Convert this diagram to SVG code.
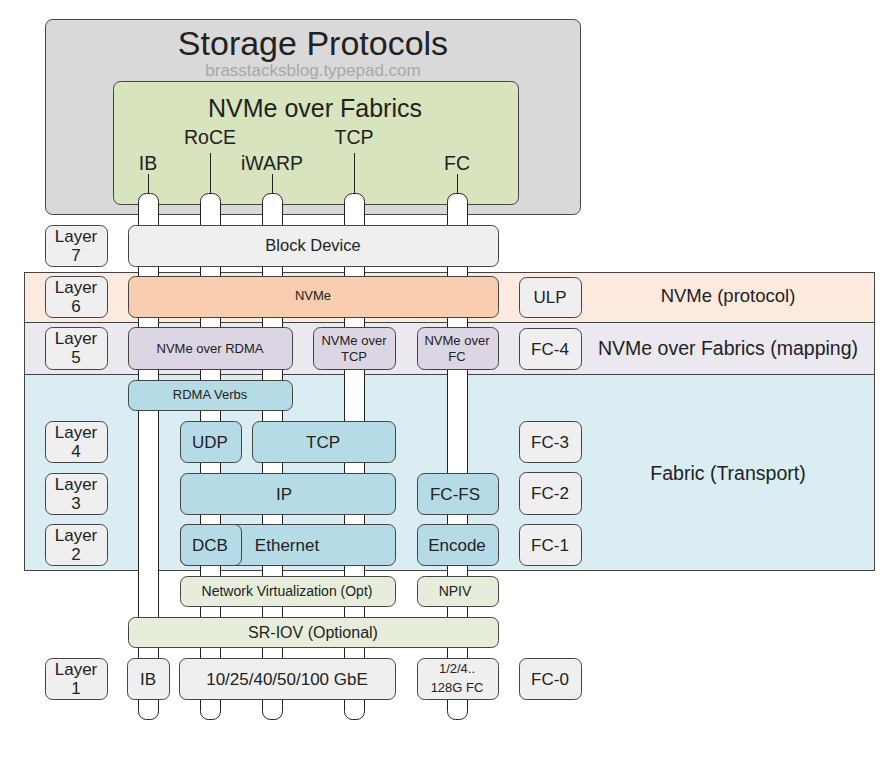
<svg xmlns="http://www.w3.org/2000/svg" width="887" height="774" viewBox="0 0 887 774">
<style>
text{font-family:"Liberation Sans",Arial,sans-serif;fill:#222;text-anchor:middle}
.b{stroke:#444;stroke-width:1}
.layer{fill:#efefef}
.gray{fill:#efefef}
.nv{fill:#f8cdb0}
.pu{fill:#dcd6e4}
.bl{fill:#b5dce6}
.gr{fill:#e6eedb}
.t17{font-size:17px}
.t13{font-size:13px}
.t14{font-size:14px}
.tube{fill:#fff;stroke:#222;stroke-width:1}
.ln{stroke:#222;stroke-width:1}
</style>
<rect width="887" height="774" fill="#fff"/>
<g id="bands">
<rect class="b" x="24.5" y="272.5" width="850" height="50" fill="#fdeadf"/>
<rect class="b" x="24.5" y="322.5" width="850" height="52" fill="#ebe8ef"/>
<rect class="b" x="24.5" y="374.5" width="850" height="196" fill="#daedf3"/>
<text x="728" y="302" style="font-size:18.5px">NVMe (protocol)</text>
<text x="728" y="355" style="font-size:19.5px">NVMe over Fabrics (mapping)</text>
<text x="728" y="480" style="font-size:19.5px">Fabric (Transport)</text>
</g>
<g id="storage-protocols">
<rect class="b" x="45.5" y="19.5" width="535" height="195" rx="7" fill="#d9d9d9"/>
<text x="313" y="55" style="font-size:34px">Storage Protocols</text>
<text x="313" y="76" style="font-size:17px;fill:#a8a8a8">brasstacksblog.typepad.com</text>
</g>
<g id="nvme-over-fabrics">
<rect class="b" x="113.5" y="81.5" width="405" height="123" rx="7" fill="#d7e4bd"/>
<text x="315" y="117" style="font-size:25px">NVMe over Fabrics</text>
<text x="210" y="144" style="font-size:19.5px">RoCE</text>
<text x="354" y="144" style="font-size:19.5px">TCP</text>
<text x="148" y="170" style="font-size:19.5px">IB</text>
<text x="272" y="170" style="font-size:19.5px">iWARP</text>
<text x="457" y="170" style="font-size:19.5px">FC</text>
</g>
<g id="connectors">
<line class="ln" x1="148.5" y1="174" x2="148.5" y2="193"/>
<line class="ln" x1="210.5" y1="153" x2="210.5" y2="193"/>
<line class="ln" x1="272.5" y1="174" x2="272.5" y2="193"/>
<line class="ln" x1="354.5" y1="153" x2="354.5" y2="193"/>
<line class="ln" x1="457.5" y1="174" x2="457.5" y2="193"/>
<rect class="tube" x="138.5" y="193.5" width="20" height="526" rx="8"/>
<rect class="tube" x="200.5" y="193.5" width="20" height="526" rx="8"/>
<rect class="tube" x="262.5" y="193.5" width="20" height="526" rx="8"/>
<rect class="tube" x="344.5" y="193.5" width="20" height="526" rx="8"/>
<rect class="tube" x="447.5" y="193.5" width="20" height="526" rx="8"/>
</g>
<g id="layer7"><rect class="b layer" x="45.5" y="225.5" width="62" height="41" rx="7"/><text class="t17" x="76" y="242">Layer</text><text class="t17" x="76" y="261">7</text></g>
<g id="layer6"><rect class="b layer" x="45.5" y="276.5" width="62" height="41" rx="7"/><text class="t17" x="76" y="293">Layer</text><text class="t17" x="76" y="312">6</text></g>
<g id="layer5"><rect class="b layer" x="45.5" y="327.5" width="62" height="42" rx="7"/><text class="t17" x="76" y="344">Layer</text><text class="t17" x="76" y="363">5</text></g>
<g id="layer4"><rect class="b layer" x="45.5" y="421.5" width="62" height="41" rx="7"/><text class="t17" x="76" y="438">Layer</text><text class="t17" x="76" y="457">4</text></g>
<g id="layer3"><rect class="b layer" x="45.5" y="473.5" width="62" height="41" rx="7"/><text class="t17" x="76" y="490">Layer</text><text class="t17" x="76" y="509">3</text></g>
<g id="layer2"><rect class="b layer" x="45.5" y="524.5" width="62" height="41" rx="7"/><text class="t17" x="76" y="541">Layer</text><text class="t17" x="76" y="560">2</text></g>
<g id="layer1"><rect class="b layer" x="45.5" y="658.5" width="62" height="41" rx="7"/><text class="t17" x="76" y="675">Layer</text><text class="t17" x="76" y="694">1</text></g>
<g id="block-device"><rect class="b gray" x="128.5" y="225.5" width="370" height="41" rx="7"/><text x="313" y="251" style="font-size:16.5px">Block Device</text></g>
<g id="nvme"><rect class="b nv" x="128.5" y="276.5" width="370" height="41" rx="7"/><text class="t13" x="313" y="300">NVMe</text></g>
<g id="nvme-over-rdma"><rect class="b pu" x="128.5" y="327.5" width="164" height="42" rx="7"/><text class="t13" x="210" y="353">NVMe over RDMA</text></g>
<g id="nvme-over-tcp"><rect class="b pu" x="313.5" y="327.5" width="82" height="42" rx="7"/><text class="t13" x="354" y="345">NVMe over</text><text class="t13" x="354" y="361">TCP</text></g>
<g id="nvme-over-fc"><rect class="b pu" x="417.5" y="327.5" width="81" height="42" rx="7"/><text class="t13" x="457" y="345">NVMe over</text><text class="t13" x="457" y="361">FC</text></g>
<g id="rdma-verbs"><rect class="b bl" x="128.5" y="380.5" width="164" height="30" rx="7"/><text class="t13" x="210" y="399">RDMA Verbs</text></g>
<g id="udp"><rect class="b bl" x="180.5" y="421.5" width="61" height="41" rx="7"/><text class="t17" x="210" y="448">UDP</text></g>
<g id="tcp"><rect class="b bl" x="252.5" y="421.5" width="143" height="41" rx="7"/><text class="t17" x="323" y="448">TCP</text></g>
<g id="ip"><rect class="b bl" x="180.5" y="473.5" width="215" height="41" rx="7"/><text class="t17" x="284" y="500">IP</text></g>
<g id="fc-fs"><rect class="b bl" x="417.5" y="473.5" width="81" height="41" rx="7"/><text class="t17" x="455" y="500">FC-FS</text></g>
<g id="ethernet"><rect class="b bl" x="180.5" y="524.5" width="215" height="41" rx="7"/><text class="t17" x="287" y="551">Ethernet</text></g>
<g id="dcb"><rect class="b bl" x="180.5" y="524.5" width="61" height="41" rx="7"/><text class="t17" x="210" y="551">DCB</text></g>
<g id="encode"><rect class="b bl" x="417.5" y="524.5" width="81" height="41" rx="7"/><text class="t17" x="457" y="551">Encode</text></g>
<g id="network-virtualization"><rect class="b gr" x="180.5" y="576.5" width="215" height="30" rx="7"/><text class="t14" x="287" y="596">Network Virtualization (Opt)</text></g>
<g id="npiv"><rect class="b gr" x="417.5" y="576.5" width="81" height="30" rx="7"/><text class="t14" x="455" y="596">NPIV</text></g>
<g id="sr-iov"><rect class="b gr" x="128.5" y="617.5" width="370" height="30" rx="7"/><text x="313" y="638" style="font-size:16px">SR-IOV (Optional)</text></g>
<g id="ib"><rect class="b gray" x="127.5" y="658.5" width="42" height="41" rx="7"/><text class="t17" x="148" y="685">IB</text></g>
<g id="gbe"><rect class="b gray" x="179.5" y="658.5" width="216" height="41" rx="7"/><text class="t17" x="287" y="685">10/25/40/50/100 GbE</text></g>
<g id="fc-speeds"><rect class="b gray" x="417.5" y="658.5" width="81" height="41" rx="7"/><text class="t13" x="457" y="673">1/2/4..</text><text class="t13" x="457" y="692">128G FC</text></g>
<g id="fc-0"><rect class="b gray" x="519.5" y="658.5" width="62" height="41" rx="7"/><text class="t17" x="550" y="685">FC-0</text></g>
<g id="ulp"><rect class="b gray" x="519.5" y="277.5" width="62" height="40" rx="7"/><text class="t17" x="550" y="303">ULP</text></g>
<g id="fc-4"><rect class="b gray" x="519.5" y="328.5" width="62" height="41" rx="7"/><text class="t17" x="550" y="355">FC-4</text></g>
<g id="fc-3"><rect class="b gray" x="519.5" y="421.5" width="62" height="41" rx="7"/><text class="t17" x="550" y="448">FC-3</text></g>
<g id="fc-2"><rect class="b gray" x="519.5" y="472.5" width="62" height="42" rx="7"/><text class="t17" x="550" y="499">FC-2</text></g>
<g id="fc-1"><rect class="b gray" x="519.5" y="524.5" width="62" height="41" rx="7"/><text class="t17" x="550" y="551">FC-1</text></g>
</svg>
